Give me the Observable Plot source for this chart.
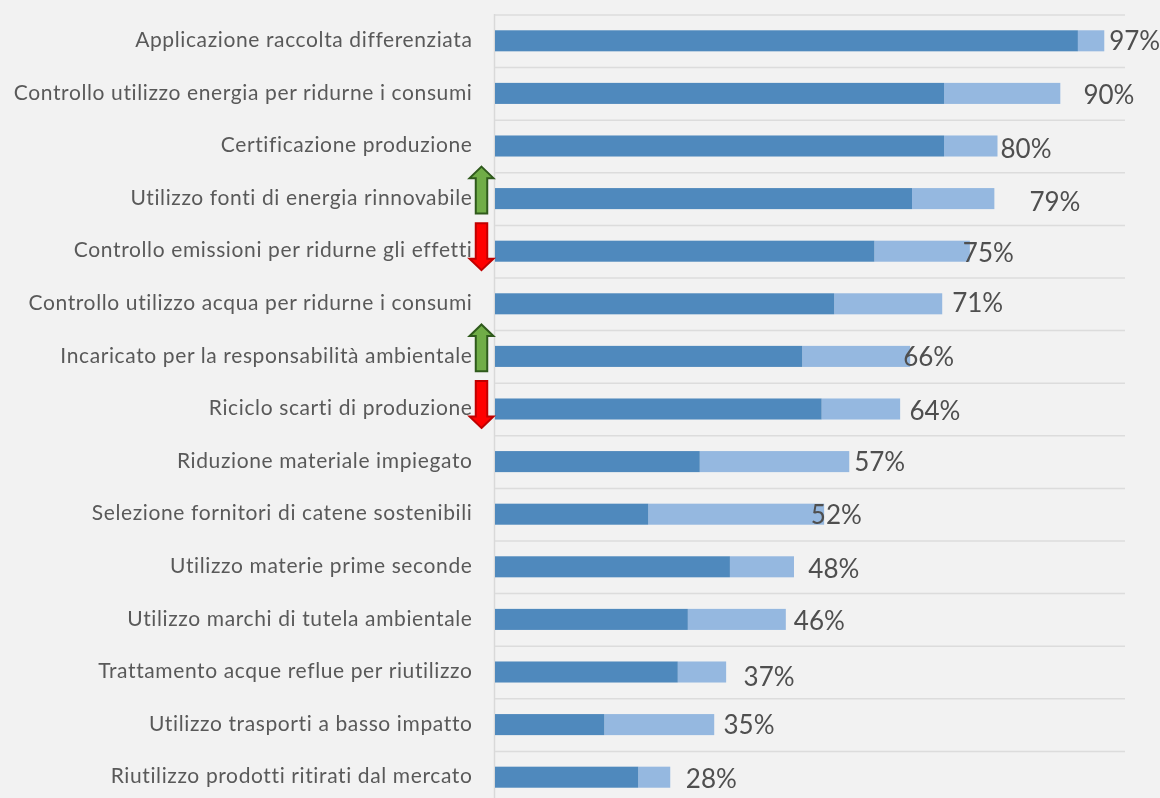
<!DOCTYPE html>
<html><head><meta charset="utf-8">
<script src="https://cdn.jsdelivr.net/npm/d3@7"></script>
<script src="https://cdn.jsdelivr.net/npm/@observablehq/plot@0.6"></script>
<style>
html,body{margin:0;padding:0;background:#f2f2f2;overflow:hidden}
svg{display:block;filter:blur(0.45px)}
g[aria-label="y-axis tick label"] text{letter-spacing:.62px}
</style></head><body><div id="chart"></div>
<script>
const categories = ["Applicazione raccolta differenziata","Controllo utilizzo energia per ridurne i consumi","Certificazione produzione","Utilizzo fonti di energia rinnovabile","Controllo emissioni per ridurne gli effetti","Controllo utilizzo acqua per ridurne i consumi","Incaricato per la responsabilità ambientale","Riciclo scarti di produzione","Riduzione materiale impiegato","Selezione fornitori di catene sostenibili","Utilizzo materie prime seconde","Utilizzo marchi di tutela ambientale","Trattamento acque reflue per riutilizzo","Utilizzo trasporti a basso impatto","Riutilizzo prodotti ritirati dal mercato"];
const darkValues = [92.8,71.5,71.5,66.4,60.4,54,48.9,52,32.6,24.4,37.4,30.7,29.1,17.4,22.8];
const barTotals = [97,90,80,79.5,75.6,71.2,66.1,64.5,56.4,52.4,47.6,46.3,36.8,34.9,27.9];
const labels = [97,90,80,79,75,71,66,64,57,52,48,46,37,35,28];
const labelAnchor = [97.7,93.6,80.4,85,74.4,72.7,64.9,65.9,57.1,50.2,49.8,47.5,39.5,36.3,30.3];
const labelShift = [-1,1,2,3,1,-2,0,1,0,0,1,1,4,0,1];
const upRows = ["Utilizzo fonti di energia rinnovabile","Incaricato per la responsabilità ambientale"];
const downRows = ["Controllo emissioni per ridurne gli effetti","Riciclo scarti di produzione"];

const rows = categories.map((name,i)=>({name,dark:darkValues[i],total:barTotals[i],label:labels[i],at:labelAnchor[i],shift:labelShift[i]}));
const arrow = dir => ({draw(c,size){
  const w=Math.sqrt(size)/2, l=w*1.96, s=w*0.48, h=w*0.96;
  const d=dir;
  c.moveTo(0,-d*l); c.lineTo(w,-d*(l-h)); c.lineTo(s,-d*(l-h)); c.lineTo(s,d*l);
  c.lineTo(-s,d*l); c.lineTo(-s,-d*(l-h)); c.lineTo(-w,-d*(l-h)); c.closePath();
}});
const font = "Lato, sans-serif";
const plot = Plot.plot({
  width:1160,height:798,marginLeft:495,marginRight:35,marginTop:14,marginBottom:0,
  style:{background:"#f2f2f2",fontFamily:font,color:"#595959"},
  x:{domain:[0,100.3],axis:null},
  y:{domain:categories,range:[14.5,803.5],round:false,paddingInner:0.6,paddingOuter:0.3,label:null},
  marks:[
    Plot.ruleY(categories,{y:d=>d,dy:-26.3,stroke:"#dcdcdc",strokeWidth:1.5}),
    Plot.ruleX([0],{dx:-1,stroke:"#d9d9d9",strokeWidth:1.5}),
    Plot.barX(rows,{y:"name",x1:"dark",x2:"total",fill:"#95b8e0"}),
    Plot.barX(rows,{y:"name",x1:0,x2:"dark",fill:"#4f89bd"}),
    Plot.axisY({tickSize:0,tickPadding:23,fontSize:21,fill:"#595959",label:null,dy:-1,tickFormat:d=>d}),
    ...rows.map(r=>Plot.text([r],{x:"at",y:"name",text:d=>d.label+"%",textAnchor:"start",dy:r.shift+1,fontSize:26,fill:"#4f4f4f"})),
    Plot.dot(upRows,{x:()=>0,y:d=>d,dx:-14,dy:-9,r:13.5,symbol:arrow(1),fill:"#70ad47",stroke:"#2f5a1c",strokeWidth:2}),
    Plot.dot(downRows,{x:()=>0,y:d=>d,dx:-14,dy:-5,r:13.5,symbol:arrow(-1),fill:"#ff0000",stroke:"#c00000",strokeWidth:2})
  ]
});
document.getElementById("chart").append(plot);
</script></body></html>
